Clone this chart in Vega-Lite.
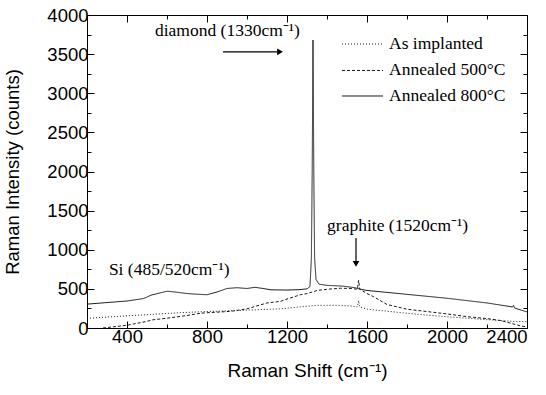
{
  "$schema": "https://vega.github.io/schema/vega-lite/v6.json",
  "width": 440,
  "height": 313,
  "autosize": {"type": "none"},
  "padding": {"left": 87, "top": 15, "right": 19, "bottom": 67},
  "background": "white",
  "config": {
    "view": {"stroke": "black", "strokeWidth": 1},
    "axis": {
      "grid": false,
      "domainColor": "black",
      "tickColor": "black",
      "tickWidth": 1,
      "labelColor": "black",
      "titleColor": "black",
      "labelFont": "Liberation Sans",
      "titleFont": "Liberation Sans",
      "labelFontSize": 18.5,
      "titleFontSize": 19,
      "titleFontWeight": "normal",
      "format": "d"
    },
    "text": {"font": "Liberation Serif", "fontSize": 17.5, "color": "black"}
  },
  "datasets": {
    "spectra": [
      {"s": "As implanted", "x": 200, "y": 124},
      {"s": "As implanted", "x": 300, "y": 140},
      {"s": "As implanted", "x": 400, "y": 155},
      {"s": "As implanted", "x": 500, "y": 170},
      {"s": "As implanted", "x": 666, "y": 196},
      {"s": "As implanted", "x": 800, "y": 210},
      {"s": "As implanted", "x": 1000, "y": 228},
      {"s": "As implanted", "x": 1167, "y": 245},
      {"s": "As implanted", "x": 1267, "y": 270},
      {"s": "As implanted", "x": 1317, "y": 282},
      {"s": "As implanted", "x": 1352, "y": 290},
      {"s": "As implanted", "x": 1450, "y": 290},
      {"s": "As implanted", "x": 1518, "y": 282},
      {"s": "As implanted", "x": 1552, "y": 270},
      {"s": "As implanted", "x": 1558, "y": 350},
      {"s": "As implanted", "x": 1564, "y": 270},
      {"s": "As implanted", "x": 1603, "y": 240},
      {"s": "As implanted", "x": 1700, "y": 215},
      {"s": "As implanted", "x": 1768, "y": 196},
      {"s": "As implanted", "x": 1934, "y": 157},
      {"s": "As implanted", "x": 2104, "y": 124},
      {"s": "As implanted", "x": 2270, "y": 94},
      {"s": "As implanted", "x": 2330, "y": 85},
      {"s": "As implanted", "x": 2400, "y": 80},

      {"s": "Annealed 500°C", "x": 280, "y": 0},
      {"s": "Annealed 500°C", "x": 350, "y": 20},
      {"s": "Annealed 500°C", "x": 400, "y": 35},
      {"s": "Annealed 500°C", "x": 450, "y": 60},
      {"s": "Annealed 500°C", "x": 500, "y": 85},
      {"s": "Annealed 500°C", "x": 530, "y": 105},
      {"s": "Annealed 500°C", "x": 600, "y": 125},
      {"s": "Annealed 500°C", "x": 700, "y": 160},
      {"s": "Annealed 500°C", "x": 766, "y": 188},
      {"s": "Annealed 500°C", "x": 800, "y": 195},
      {"s": "Annealed 500°C", "x": 900, "y": 210},
      {"s": "Annealed 500°C", "x": 932, "y": 218},
      {"s": "Annealed 500°C", "x": 1000, "y": 245},
      {"s": "Annealed 500°C", "x": 1100, "y": 320},
      {"s": "Annealed 500°C", "x": 1167, "y": 340},
      {"s": "Annealed 500°C", "x": 1200, "y": 370},
      {"s": "Annealed 500°C", "x": 1267, "y": 425},
      {"s": "Annealed 500°C", "x": 1300, "y": 440},
      {"s": "Annealed 500°C", "x": 1352, "y": 480},
      {"s": "Annealed 500°C", "x": 1400, "y": 495},
      {"s": "Annealed 500°C", "x": 1468, "y": 508},
      {"s": "Annealed 500°C", "x": 1520, "y": 505},
      {"s": "Annealed 500°C", "x": 1552, "y": 495},
      {"s": "Annealed 500°C", "x": 1558, "y": 610},
      {"s": "Annealed 500°C", "x": 1564, "y": 495},
      {"s": "Annealed 500°C", "x": 1600, "y": 440},
      {"s": "Annealed 500°C", "x": 1633, "y": 400},
      {"s": "Annealed 500°C", "x": 1700, "y": 300},
      {"s": "Annealed 500°C", "x": 1800, "y": 240},
      {"s": "Annealed 500°C", "x": 1934, "y": 200},
      {"s": "Annealed 500°C", "x": 2000, "y": 180},
      {"s": "Annealed 500°C", "x": 2100, "y": 145},
      {"s": "Annealed 500°C", "x": 2200, "y": 120},
      {"s": "Annealed 500°C", "x": 2270, "y": 95},
      {"s": "Annealed 500°C", "x": 2320, "y": 60},
      {"s": "Annealed 500°C", "x": 2370, "y": 25},
      {"s": "Annealed 500°C", "x": 2400, "y": 15},

      {"s": "Annealed 800°C", "x": 200, "y": 305},
      {"s": "Annealed 800°C", "x": 300, "y": 325},
      {"s": "Annealed 800°C", "x": 400, "y": 345},
      {"s": "Annealed 800°C", "x": 480, "y": 375},
      {"s": "Annealed 800°C", "x": 500, "y": 395},
      {"s": "Annealed 800°C", "x": 520, "y": 420},
      {"s": "Annealed 800°C", "x": 560, "y": 445},
      {"s": "Annealed 800°C", "x": 600, "y": 470},
      {"s": "Annealed 800°C", "x": 640, "y": 460},
      {"s": "Annealed 800°C", "x": 700, "y": 440},
      {"s": "Annealed 800°C", "x": 760, "y": 430},
      {"s": "Annealed 800°C", "x": 800, "y": 425},
      {"s": "Annealed 800°C", "x": 850, "y": 460},
      {"s": "Annealed 800°C", "x": 900, "y": 505},
      {"s": "Annealed 800°C", "x": 950, "y": 515},
      {"s": "Annealed 800°C", "x": 1000, "y": 505},
      {"s": "Annealed 800°C", "x": 1040, "y": 520},
      {"s": "Annealed 800°C", "x": 1080, "y": 505},
      {"s": "Annealed 800°C", "x": 1120, "y": 488},
      {"s": "Annealed 800°C", "x": 1200, "y": 485},
      {"s": "Annealed 800°C", "x": 1260, "y": 490},
      {"s": "Annealed 800°C", "x": 1300, "y": 500},
      {"s": "Annealed 800°C", "x": 1315, "y": 530},
      {"s": "Annealed 800°C", "x": 1322, "y": 900},
      {"s": "Annealed 800°C", "x": 1326, "y": 2000},
      {"s": "Annealed 800°C", "x": 1330, "y": 3680},
      {"s": "Annealed 800°C", "x": 1334, "y": 2000},
      {"s": "Annealed 800°C", "x": 1338, "y": 900},
      {"s": "Annealed 800°C", "x": 1345, "y": 620},
      {"s": "Annealed 800°C", "x": 1360, "y": 560},
      {"s": "Annealed 800°C", "x": 1400, "y": 545},
      {"s": "Annealed 800°C", "x": 1480, "y": 535},
      {"s": "Annealed 800°C", "x": 1540, "y": 515},
      {"s": "Annealed 800°C", "x": 1560, "y": 500},
      {"s": "Annealed 800°C", "x": 1600, "y": 480},
      {"s": "Annealed 800°C", "x": 1700, "y": 455},
      {"s": "Annealed 800°C", "x": 1800, "y": 430},
      {"s": "Annealed 800°C", "x": 1900, "y": 405},
      {"s": "Annealed 800°C", "x": 2000, "y": 380},
      {"s": "Annealed 800°C", "x": 2100, "y": 350},
      {"s": "Annealed 800°C", "x": 2200, "y": 320},
      {"s": "Annealed 800°C", "x": 2300, "y": 280},
      {"s": "Annealed 800°C", "x": 2328, "y": 268},
      {"s": "Annealed 800°C", "x": 2333, "y": 290},
      {"s": "Annealed 800°C", "x": 2338, "y": 255},
      {"s": "Annealed 800°C", "x": 2400, "y": 205}
    ],
    "key": [
      {"s": "As implanted", "x": 1475, "x2": 1680, "tx": 1710, "y": 3629},
      {"s": "Annealed 500°C", "x": 1475, "x2": 1680, "tx": 1710, "y": 3291},
      {"s": "Annealed 800°C", "x": 1475, "x2": 1680, "tx": 1710, "y": 2965}
    ],
    "labels": [
      {"x": 902, "y": 3800, "t": "diamond (1330cm⁻¹)"},
      {"x": 1753, "y": 1300, "t": "graphite (1520cm⁻¹)"},
      {"x": 611, "y": 740, "t": "Si (485/520cm⁻¹)"}
    ],
    "hshafts": [
      {"x": 880, "y": 3530, "x2": 1150}
    ],
    "vshafts": [
      {"x": 1545, "y": 1150, "y2": 840}
    ],
    "heads": [
      {"x": 1165, "y": 3530, "dir": "right"},
      {"x": 1545, "y": 820, "dir": "down"}
    ]
  },
  "resolve": {"axis": {"x": "independent", "y": "independent"}},
  "layer": [
    {
      "data": {"name": "spectra"},
      "mark": {"type": "line", "strokeWidth": 1, "color": "#1a1a1a", "clip": true},
      "encoding": {
        "x": {
          "field": "x", "type": "quantitative",
          "scale": {"domain": [200, 2400], "nice": false, "zero": false},
          "axis": {"orient": "bottom", "values": [400, 800, 1200, 1600, 2000, 2400], "tickSize": -7, "labelPadding": 6, "title": "Raman Shift (cm⁻¹)", "titlePadding": 16}
        },
        "y": {
          "field": "y", "type": "quantitative",
          "scale": {"domain": [0, 4000], "nice": false},
          "axis": {"orient": "left", "values": [0, 500, 1000, 1500, 2000, 2500, 3000, 3500, 4000], "tickSize": -7, "labelPadding": 6, "title": "Raman Intensity (counts)", "titleFontSize": 18.5, "titlePadding": 24}
        },
        "strokeDash": {
          "field": "s", "type": "nominal",
          "scale": {"domain": ["As implanted", "Annealed 500°C", "Annealed 800°C"], "range": [[1, 2], [3, 2], [1, 0]]},
          "legend": null
        }
      }
    },
    {
      "data": {"name": "key"},
      "mark": {"type": "rule", "strokeWidth": 1, "color": "#1a1a1a"},
      "encoding": {
        "x": {"field": "x", "type": "quantitative", "axis": null},
        "x2": {"field": "x2"},
        "y": {"field": "y", "type": "quantitative", "axis": null},
        "strokeDash": {"field": "s", "type": "nominal", "legend": null}
      }
    },
    {
      "data": {"name": "key"},
      "mark": {"type": "text", "align": "left", "baseline": "middle"},
      "encoding": {
        "x": {"field": "tx", "type": "quantitative", "axis": null},
        "y": {"field": "y", "type": "quantitative", "axis": null},
        "text": {"field": "s"}
      }
    },
    {
      "data": {"name": "labels"},
      "mark": {"type": "text", "align": "center", "baseline": "middle"},
      "encoding": {
        "x": {"field": "x", "type": "quantitative", "axis": {"orient": "top", "offset": -7, "values": [400, 800, 1200, 1600, 2000, 2400], "tickSize": 7, "labels": false, "domain": false, "title": null}},
        "y": {"field": "y", "type": "quantitative", "axis": {"orient": "right", "offset": -7, "values": [0, 500, 1000, 1500, 2000, 2500, 3000, 3500, 4000], "tickSize": 7, "labels": false, "domain": false, "title": null}},
        "text": {"field": "t"}
      }
    },
    {
      "data": {"name": "hshafts"},
      "mark": {"type": "rule", "color": "black", "strokeWidth": 1.2},
      "encoding": {
        "x": {"field": "x", "type": "quantitative", "axis": {"orient": "bottom", "offset": -4, "values": [200, 600, 1000, 1400, 1800, 2200], "tickSize": 4, "labels": false, "domain": false, "title": null}},
        "y": {"field": "y", "type": "quantitative", "axis": {"orient": "left", "offset": -4, "values": [250, 750, 1250, 1750, 2250, 2750, 3250, 3750], "tickSize": 4, "labels": false, "domain": false, "title": null}},
        "x2": {"field": "x2"}
      }
    },
    {
      "data": {"name": "vshafts"},
      "mark": {"type": "rule", "color": "black", "strokeWidth": 1.2},
      "encoding": {
        "x": {"field": "x", "type": "quantitative", "axis": null},
        "y": {"field": "y", "type": "quantitative", "axis": null},
        "y2": {"field": "y2"}
      }
    },
    {
      "data": {"name": "heads"},
      "mark": {"type": "point", "filled": true, "color": "black", "size": 45, "opacity": 1},
      "encoding": {
        "x": {"field": "x", "type": "quantitative", "axis": {"orient": "top", "offset": -4, "values": [200, 600, 1000, 1400, 1800, 2200], "tickSize": 4, "labels": false, "domain": false, "title": null}},
        "y": {"field": "y", "type": "quantitative", "axis": {"orient": "right", "offset": -4, "values": [250, 750, 1250, 1750, 2250, 2750, 3250, 3750], "tickSize": 4, "labels": false, "domain": false, "title": null}},
        "shape": {"field": "dir", "type": "nominal", "scale": {"domain": ["right", "down"], "range": ["triangle-right", "triangle-down"]}, "legend": null}
      }
    }
  ]
}
